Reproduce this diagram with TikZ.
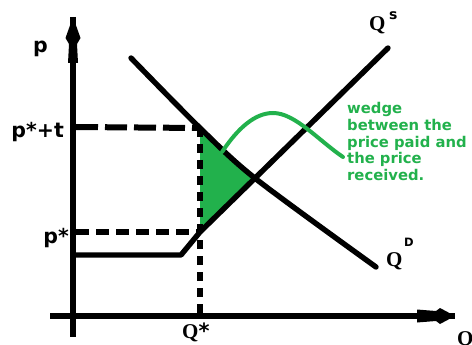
\documentclass[tikz,border=0pt]{standalone}
\usepackage{fontspec}
\newfontfamily\dvs{DejaVu Sans}
\newfontfamily\lser{Liberation Serif}
\definecolor{pgreen}{HTML}{22B14C}
\begin{document}
\begin{tikzpicture}[x=1pt,y=-1pt,
  curve/.style={line width=5.4pt,line cap=round,line join=round},
  axisline/.style={line width=5.8pt},
  dashline/.style={line width=6pt},
  lbl/.style={inner sep=0pt,font=\dvs\bfseries\fontsize{20.5}{20.5}\selectfont},
  qlbl/.style={inner sep=0pt,font=\lser\bfseries\fontsize{21}{21}\selectfont},
  sup/.style={inner sep=0pt,font=\dvs\bfseries\fontsize{11.5}{11.5}\selectfont},
  note/.style={inner sep=0pt,anchor=north west,align=left,text=pgreen,font=\dvs\bfseries\fontsize{14.8}{16.8}\selectfont}]
\useasboundingbox (0,0) rectangle (472,345);
% key points
\coordinate (ytop) at (73,17);
\coordinate (ybot) at (73,337);
\coordinate (xleft) at (50,316);
\coordinate (xright) at (455,316);
\coordinate (dA) at (131,58);
\coordinate (pt) at (200,128);
\coordinate (eq) at (256,179);
\coordinate (dZ) at (376,267);
\coordinate (ps) at (200,232);
\coordinate (kink) at (181,255);
\coordinate (floorL) at (73,255);
\coordinate (sZ) at (388,48);
\coordinate (qs) at (200,316);
% wedge fill
\fill[pgreen] (pt) -- (eq) -- (ps) -- cycle;
% axes
\draw[axisline] (ytop) -- (ybot);
\draw[axisline] (xleft) -- (xright);
\fill (73,17) -- (80.5,38) -- (77,44) -- (78,63) -- (68,63) -- (69,44) -- (65.5,38) -- cycle;
\fill (455,316) -- (440,308) -- (436,311) -- (417,309.5) -- (417,322.5) -- (436,321) -- (440,324) -- cycle;
% dashed lines
\draw[dashline,dash pattern=on 22pt off 7pt] (76,127) -- (pt);
\draw[dashline,dash pattern=on 13pt off 7pt] (76,232) -- (ps);
\draw[dashline,dash pattern=on 9pt off 7pt] (pt) -- (qs);
% demand
\draw[curve] plot[smooth,tension=0.5] coordinates {(dA) (pt) (eq) (dZ)};
% supply with floor
\draw[curve,line cap=butt] (floorL) -- (kink) -- (ps) -- (sZ);
\fill (sZ) circle (2.7pt);
% green curve
\draw[pgreen,line width=4pt,line cap=round] (222,152) .. controls (238,128) and (255,113) .. (273,113) .. controls (295,113) and (318,140) .. (343,157);
% labels
\node[lbl,anchor=base east] (lp) at (48,53) {p};
\node[lbl,anchor=base east] (lpt) at (64,138) {p*+t};
\node[lbl,anchor=base east] (lps) at (69,243) {p*};
\node[qlbl,anchor=base west] (lqs) at (182,338) {Q\dvs*};
\node[qlbl,anchor=base west] (lsup) at (369,31) {Q};
\node[inner sep=0pt,font=\dvs\bfseries\fontsize{14}{14}\selectfont,anchor=base west] at (389,20) {s};
\node[qlbl,anchor=base west] (ldem) at (386,266) {Q};
\node[sup,anchor=base west] at (404,246) {D};
\node[qlbl,anchor=base west] (lq) at (457,345) {Q};
\node[note] (wedge) at (347,102) {wedge\\between the\\price paid and\\the price\\received.};
\end{tikzpicture}
\end{document}
